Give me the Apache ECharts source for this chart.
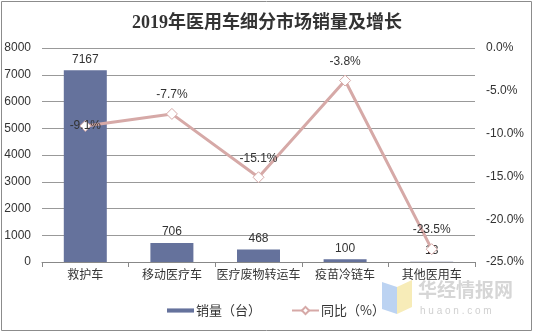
<!DOCTYPE html>
<html>
<head>
<meta charset="utf-8">
<script src="https://cdn.jsdelivr.net/npm/echarts@6/dist/echarts.min.js"></script>
<style>html,body{margin:0;padding:0;background:#fff}#c{width:534px;height:334px}</style>
</head>
<body>
<div id="c"></div>
<script>
var categories = ['救护车', '移动医疗车', '医疗废物转运车', '疫苗冷链车', '其他医用车'];
var sales = [7167, 706, 468, 100, 13];
var growth = [-9.1, -7.7, -15.1, -3.8, -23.5];
var leftTicks = { min: 0, max: 8000, interval: 1000 };
var rightTicks = { min: -25, max: 0, interval: 5 };

var chart = echarts.init(document.getElementById('c'));
var font = 'Liberation Sans, Arial, Noto Sans CJK SC, sans-serif';
chart.setOption({
  animation: false,
  textStyle: { fontFamily: font },
  title: {
    text: '2019年医用车细分市场销量及增长',
    left: 'center', top: 9,
    textStyle: { fontFamily: 'Liberation Serif, Noto Sans CJK SC, serif', fontSize: 18, fontWeight: 'bold', color: '#333' }
  },
  graphic: [
    { type: 'rect', shape: { x: 1.5, y: 1.5, width: 530, height: 329 }, style: { fill: 'none', stroke: '#8c8c8c', lineWidth: 1 }, silent: true },
    { type: 'polygon', shape: { points: [[382, 282], [397, 287], [397, 314], [382, 309]] }, style: { fill: '#bcd3f2' }, silent: true },
    { type: 'polygon', shape: { points: [[397, 287], [412, 280], [412, 307], [397, 314]] }, style: { fill: '#f7ecb8' }, silent: true },
    { type: 'text', left: 418, top: 280, style: { text: '华经情报网', font: 'bold 19px Noto Sans CJK SC', fill: '#d6d6d6' }, silent: true },
    { type: 'text', left: 420, top: 306, style: { text: 'h u a o n . c o m', font: '10px Liberation Sans', fill: '#d0d0d0' }, silent: true }
  ],
  legend: {
    bottom: 12, left: 162,
    itemGap: 30, itemWidth: 27, itemHeight: 9,
    textStyle: { fontSize: 13, color: '#333', fontFamily: 'Noto Sans CJK SC, sans-serif', padding: [0, 0, 0, -3] },
    data: [
      { name: '销量（台）', icon: 'path://M0,0h26v4h-26z' },
      { name: '同比（%）' }
    ]
  },
  grid: { left: 42, right: 59, top: 48, bottom: 72 },
  xAxis: {
    type: 'category', data: categories,
    axisLine: { lineStyle: { color: '#888' } },
    axisTick: { show: true, length: 5, lineStyle: { color: '#888' } },
    axisLabel: { color: '#333', fontSize: 12, margin: 6, interval: 0, fontFamily: 'Noto Sans CJK SC, sans-serif' }
  },
  yAxis: [
    {
      type: 'value', min: leftTicks.min, max: leftTicks.max, interval: leftTicks.interval,
      axisLine: { show: false }, axisTick: { show: false },
      axisLabel: { color: '#333', fontSize: 12, margin: 11, formatter: function (v) { return String(v); } },
      splitLine: { lineStyle: { color: '#999' } }
    },
    {
      type: 'value', min: rightTicks.min, max: rightTicks.max, interval: rightTicks.interval,
      axisLine: { show: false }, axisTick: { show: false },
      axisLabel: { color: '#333', fontSize: 12, margin: 11, formatter: function (v) { return v.toFixed(1) + '%'; } },
      splitLine: { show: false }
    }
  ],
  series: [
    {
      name: '销量（台）', type: 'bar', data: sales, barWidth: 43,
      itemStyle: { color: '#65729c' },
      label: { show: true, position: 'top', distance: 5, color: '#333', fontSize: 12 }
    },
    {
      name: '同比（%）', type: 'line', yAxisIndex: 1,
      data: growth.map(function (v, i) {
        return i === 0 ? { value: v, label: { position: 'inside' } } : v;
      }),
      symbol: 'diamond', symbolSize: 11,
      lineStyle: { color: '#d6a9a7', width: 3 },
      itemStyle: { color: '#fff', borderColor: '#d6a9a7', borderWidth: 1 },
      label: { show: true, position: 'top', distance: 7, color: '#333', fontSize: 12, formatter: function (p) { return p.value.toFixed(1) + '%'; } }
    }
  ]
});
</script>
</body>
</html>
